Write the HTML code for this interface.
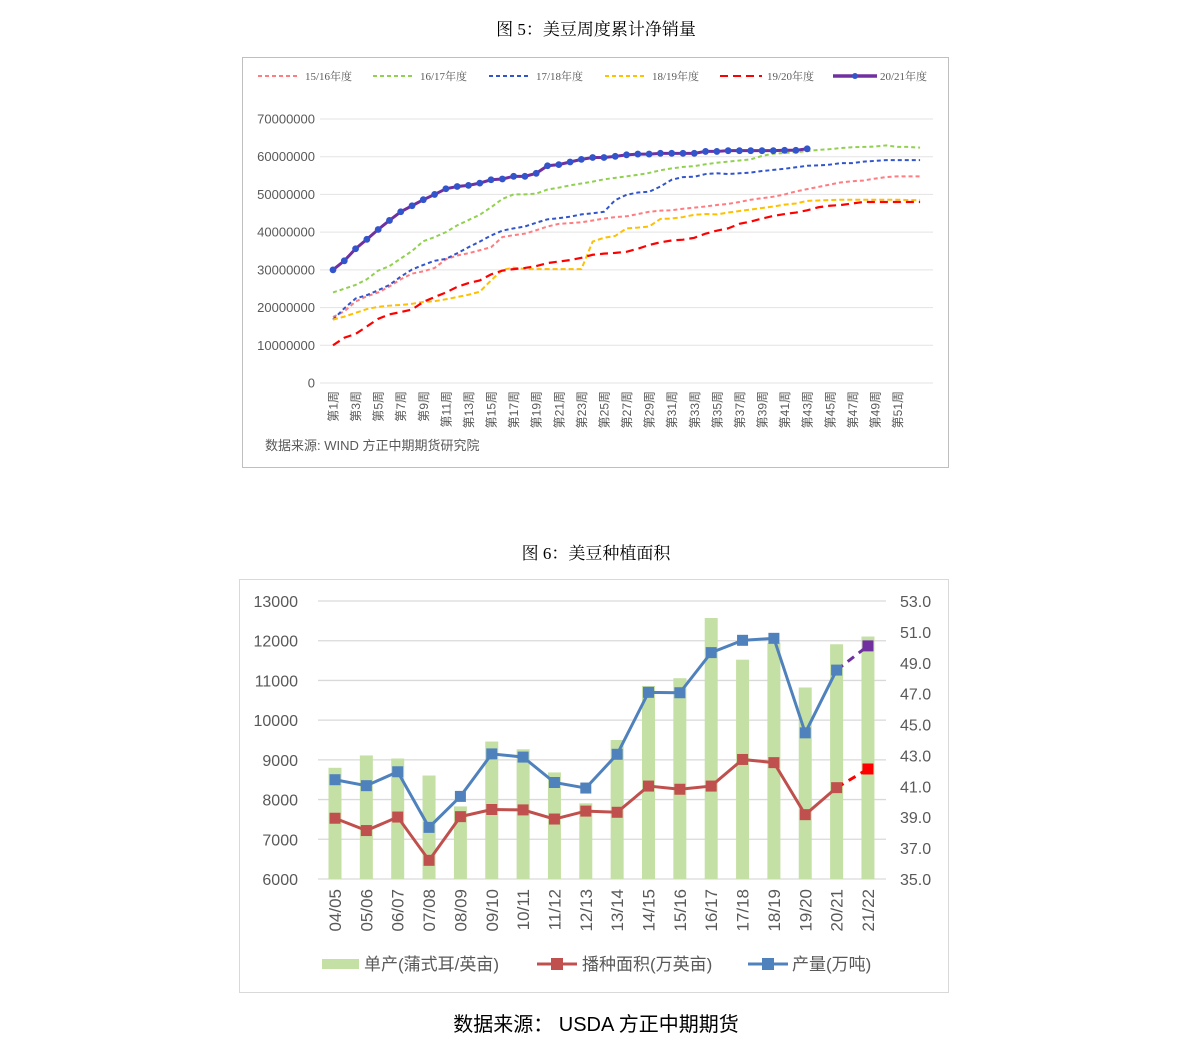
<!DOCTYPE html>
<html><head><meta charset="utf-8"><style>
body{margin:0;background:#fff;width:1191px;height:1055px;overflow:hidden;font-family:"Liberation Sans","Noto Sans CJK SC",sans-serif;}
svg{position:absolute;left:0;top:0}
</style></head><body>
<svg id="svg" width="1191" height="1055" xmlns="http://www.w3.org/2000/svg">
<text x="596" y="35" text-anchor="middle" font-size="17" font-family="Liberation Serif,Noto Serif CJK SC,serif" fill="#000">图 5：美豆周度累计净销量</text>
<rect x="242.5" y="57.5" width="706" height="410" fill="#fff" stroke="#bfbfbf"/>
<g id="c1"></g>
<text x="265" y="450" font-size="13" fill="#595959">数据来源:  WIND 方正中期期货研究院</text>
<text x="596" y="559" text-anchor="middle" font-size="17" font-family="Liberation Serif,Noto Serif CJK SC,serif" fill="#000">图 6：美豆种植面积</text>
<rect x="239.5" y="579.5" width="709" height="413" fill="#fff" stroke="#d9d9d9"/>
<g id="c2"></g>
<text x="596" y="1031" text-anchor="middle" font-size="20" fill="#000">数据来源：  USDA  方正中期期货</text>
</svg>
<script>
const NS="http://www.w3.org/2000/svg";
// ---- chart 1 data (millions) ----
const weeks1=[];for(let i=1;i<=53;i++)weeks1.push(i);
const yTicks1=[0,10000000,20000000,30000000,40000000,50000000,60000000,70000000];
const s1516=[17.5,19.0,21.6,23.0,24.0,25.6,27.5,29.0,29.6,30.5,32.8,33.8,34.4,35.2,36.0,38.7,39.2,39.6,40.5,41.5,42.2,42.4,42.6,43.1,43.6,44.0,44.2,44.8,45.4,45.7,45.8,46.2,46.5,46.8,47.2,47.5,48.0,48.6,49.0,49.4,50.0,50.8,51.4,52.0,52.6,53.2,53.5,53.7,54.2,54.6,54.8,54.8,54.8];
const s1617=[24.0,25.0,26.0,27.5,29.8,31.0,33.0,35.0,37.6,38.7,40.0,41.8,43.2,44.6,46.6,48.8,50.0,50.0,50.2,51.3,51.8,52.4,52.9,53.4,54.0,54.4,54.8,55.2,55.7,56.4,56.9,57.3,57.5,58.0,58.4,58.7,59.0,59.3,60.2,60.8,61.0,61.2,61.5,61.8,62.0,62.3,62.5,62.6,62.7,63.0,62.6,62.6,62.4];
const s1718=[16.8,19.8,22.4,23.3,24.6,26.0,28.2,30.1,31.3,32.4,32.9,34.4,36.0,37.5,39.1,40.4,41.0,41.5,42.5,43.4,43.7,44.1,44.7,45.0,45.4,48.5,49.9,50.5,50.7,52.1,53.9,54.6,54.7,55.4,55.6,55.4,55.6,55.8,56.2,56.5,56.8,57.2,57.6,57.7,57.9,58.3,58.3,58.7,58.9,59.1,59.1,59.1,59.1];
const s1819=[16.8,17.6,18.6,19.6,20.2,20.5,20.7,21.0,21.5,21.7,22.2,22.8,23.4,24.2,27.2,30.0,30.6,30.2,30.2,30.2,30.2,30.2,30.2,37.5,38.5,39.0,41.0,41.2,41.5,43.5,43.6,44.0,44.6,44.8,44.7,45.2,45.6,46.0,46.4,46.8,47.3,47.6,48.3,48.4,48.5,48.6,48.6,48.6,48.6,48.6,48.6,48.5,48.5];
const s1920=[10.0,12.0,13.0,15.0,17.0,18.2,18.8,19.5,21.5,22.8,24.0,25.5,26.5,27.2,28.8,29.8,30.2,30.5,31.0,31.8,32.2,32.6,33.2,34.0,34.3,34.5,34.8,35.6,36.6,37.3,37.8,38.0,38.5,39.6,40.4,41.0,42.2,42.8,43.6,44.3,44.8,45.2,45.8,46.6,47.0,47.2,47.6,48.0,48.0,48.0,48.0,48.0,48.0];
const s2021=[30.0,32.4,35.6,38.1,40.7,43.1,45.4,47.0,48.6,50.0,51.5,52.1,52.4,53.0,53.9,54.1,54.8,54.8,55.6,57.6,57.9,58.6,59.3,59.8,59.8,60.1,60.5,60.7,60.7,60.9,60.9,60.9,60.9,61.4,61.4,61.6,61.6,61.6,61.6,61.6,61.7,61.7,62.1];
const legend1=["15/16年度","16/17年度","17/18年度","18/19年度","19/20年度","20/21年度"];
// ---- chart 2 data ----
const cats2=["04/05","05/06","06/07","07/08","08/09","09/10","10/11","11/12","12/13","13/14","14/15","15/16","16/17","17/18","18/19","19/20","20/21","21/22"];
const yieldVals=[42.2,43.0,42.8,41.7,39.7,43.9,43.4,41.9,39.9,44.0,47.5,48.0,51.9,49.2,50.3,47.4,50.2,50.7];
const areaVals=[7530,7220,7560,6470,7570,7750,7740,7510,7710,7680,8340,8260,8340,9010,8930,7620,8300,8770];
const prodVals=[8500,8350,8700,7300,8080,9150,9070,8430,8290,9140,10700,10690,11700,12010,12060,9680,11260,11870];
const leftTicks2=[6000,7000,8000,9000,10000,11000,12000,13000];
const rightTicks2=["35.0","37.0","39.0","41.0","43.0","45.0","47.0","49.0","51.0","53.0"];

function el(parent,tag,attrs,text){const e=document.createElementNS(NS,tag);for(const k in attrs)e.setAttribute(k,attrs[k]);if(text!==undefined)e.textContent=text;parent.appendChild(e);return e;}

// chart 1
(function(){
const g=document.getElementById('c1');
const x=w=>333+(w-1)*11.29;
const y=v=>383-v*(264/70);
yTicks1.forEach(t=>{
 const yy=y(t/1e6);
 const l=el(g,'line',{x1:320,x2:933,y1:yy,y2:yy,stroke:'#e3e3e3','stroke-width':1});
 
 const tx=el(g,'text',{x:315,y:yy+4.5,'text-anchor':'end','font-size':13,fill:'#595959'},String(t));
 
});
weeks1.forEach(w=>{ if(w%2===1 && w<=51){
 const tx=el(g,'text',{transform:`translate(${x(w)+4.5},391) rotate(-90)`,'text-anchor':'end','font-size':12,fill:'#595959'},`第${w}周`);
 }});
const series=[[s1516,'#ff7c80',2,'4 3'],[s1617,'#92d050',2,'4 3'],[s1718,'#3355cc',2,'4 3'],[s1819,'#ffc000',2,'5 3'],[s1920,'#ff0000',2.2,'8 5']];
const names=['series-15-16','series-16-17','series-17-18','series-18-19','series-19-20'];
series.forEach((s,i)=>{
 const p=el(g,'polyline',{points:s[0].map((v,j)=>x(j+1)+','+y(v)).join(' '),fill:'none',stroke:s[1],'stroke-width':s[2],'stroke-dasharray':s[3]});
 
});
const p=el(g,'polyline',{points:s2021.map((v,j)=>x(j+1)+','+y(v)).join(' '),fill:'none',stroke:'#7030a0','stroke-width':3});

s2021.forEach((v,j)=>{const c=el(g,'circle',{cx:x(j+1),cy:y(v),r:3.4,fill:'#3355cc'});
 });
// legend
const lx=[258,373,489,605,720,833];
const cols=['#ff7c80','#92d050','#3355cc','#ffc000','#ff0000','#7030a0'];
legend1.forEach((n,i)=>{
 const lg=el(g,'g',{});
 if(i<5) el(lg,'line',{x1:lx[i],x2:lx[i]+42,y1:76,y2:76,stroke:cols[i],'stroke-width':2,'stroke-dasharray':i===4?'8 5':'4 3'});
 else {el(lg,'line',{x1:lx[i],x2:lx[i]+44,y1:76,y2:76,stroke:cols[i],'stroke-width':3.5});el(lg,'circle',{cx:lx[i]+22,cy:76,r:3,fill:'#3355cc'});}
 el(lg,'text',{x:lx[i]+47,y:80,'font-size':11,fill:'#595959','font-family':'Liberation Serif,Noto Serif CJK SC,serif'},n);
});
})();

// chart 2
(function(){
const g=document.getElementById('c2');
const x=i=>335+i*31.35;
const yl=v=>879-(v-6000)*(278/7000);
const yr=v=>879-(v-35)*(278/18);
leftTicks2.forEach(t=>{
 const yy=yl(t);
 const l=el(g,'line',{x1:318,x2:886,y1:yy,y2:yy,stroke:'#d9d9d9','stroke-width':1.3});
 
 const tx=el(g,'text',{x:298,y:yy+6,'text-anchor':'end','font-size':16,fill:'#595959'},String(t));
 
});
rightTicks2.forEach(t=>{
 const tx=el(g,'text',{x:900,y:yr(parseFloat(t))+6,'font-size':16,fill:'#595959'},t);
 
});
yieldVals.forEach((v,i)=>{
 const r=el(g,'rect',{x:x(i)-6.5,y:yr(v),width:13,height:879-yr(v),fill:'#c5e0a5'});
 
});
cats2.forEach((c,i)=>{
 const tx=el(g,'text',{transform:`translate(${x(i)+6},889) rotate(-90)`,'text-anchor':'end','font-size':17,fill:'#595959'},c);
 
});
function line(vals,col,name,endCol){
 const n=vals.length-1;
 const p=el(g,'polyline',{points:vals.slice(0,n).map((v,i)=>x(i)+','+yl(v)).join(' '),fill:'none',stroke:col,'stroke-width':3});
 
 const d=el(g,'line',{x1:x(n-1),y1:yl(vals[n-1]),x2:x(n),y2:yl(vals[n]),stroke:endCol,'stroke-width':3,'stroke-dasharray':'8 6'});
 
 vals.forEach((v,i)=>{const r=el(g,'rect',{x:x(i)-5.5,y:yl(v)-5.5,width:11,height:11,fill:i===n?endCol:col});
  });
}
line(areaVals,'#c0504d','area','#ff0000');
line(prodVals,'#4f81bd','production','#7030a0');
// legend
const l1=el(g,'g',{});
el(l1,'rect',{x:322,y:959,width:37,height:10,fill:'#c5e0a5'});
el(l1,'text',{x:364,y:970,'font-size':17,fill:'#595959'},'单产(蒲式耳/英亩)');
const l2=el(g,'g',{});
el(l2,'line',{x1:537,x2:577,y1:964,y2:964,stroke:'#c0504d','stroke-width':3});
el(l2,'rect',{x:551,y:958,width:12,height:12,fill:'#c0504d'});
el(l2,'text',{x:582,y:970,'font-size':17,fill:'#595959'},'播种面积(万英亩)');
const l3=el(g,'g',{});
el(l3,'line',{x1:748,x2:788,y1:964,y2:964,stroke:'#4f81bd','stroke-width':3});
el(l3,'rect',{x:762,y:958,width:12,height:12,fill:'#4f81bd'});
el(l3,'text',{x:792,y:970,'font-size':17,fill:'#595959'},'产量(万吨)');
})();
</script>
</body></html>
